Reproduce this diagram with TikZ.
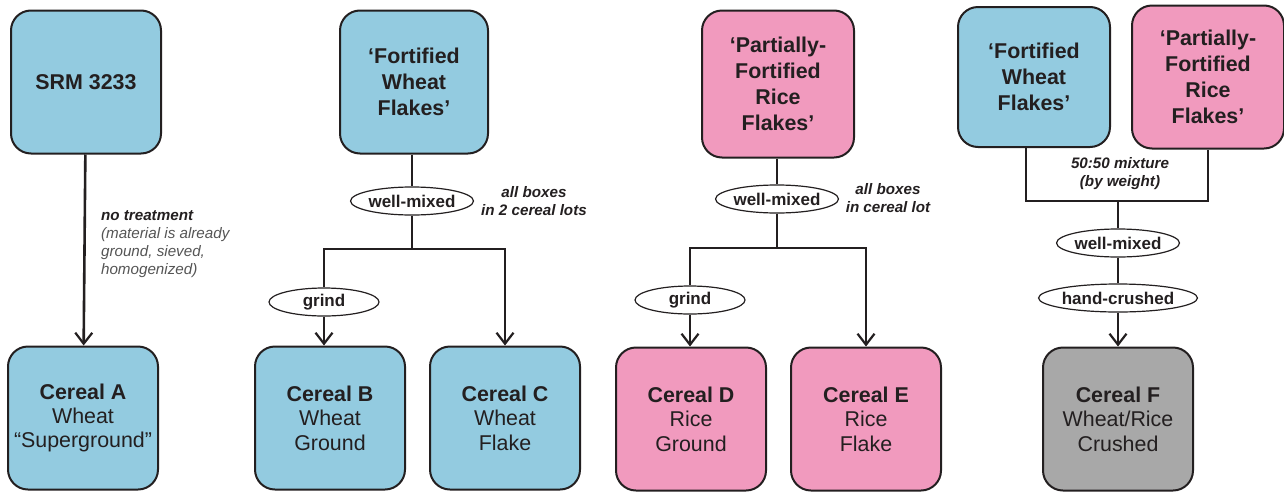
\documentclass[tikz,border=0pt]{standalone}
\usepackage{fontspec}
\setmainfont{Liberation Sans}
\usepackage{xcolor}
\definecolor{wheatblue}{RGB}{147,203,224}
\definecolor{ricepink}{RGB}{241,154,190}
\definecolor{mixgray}{RGB}{168,168,168}
\definecolor{ink}{RGB}{35,31,32}
\definecolor{notegray}{RGB}{85,85,85}
\usepackage{tikz}
\usetikzlibrary{
  arrows.meta,
  positioning,
  shapes.geometric
}
\tikzset{
  wheatbox/.style={draw=ink, line width=1pt, rounded corners=10pt, fill=wheatblue,
    minimum width=75pt, minimum height=71.5pt, inner sep=2pt,
    align=center, text=ink, font=\fontsize{10.7}{12.2}\selectfont},
  ricebox/.style={wheatbox, fill=ricepink},
  mixbox/.style={wheatbox, fill=mixgray},
  srcbox/.style={wheatbox, font=\bfseries\fontsize{10.7}{12.9}\selectfont},
  procnode/.style={draw=ink, ellipse, line width=0.6pt, fill=white,
    minimum width=55pt, minimum height=14pt, inner sep=0pt,
    text=ink, font=\bfseries\fontsize{8.5}{10}\selectfont},
  notenode/.style={align=center, text=ink,
    font=\bfseries\itshape\fontsize{7.6}{9}\selectfont},
  conn/.style={draw=ink, line width=1.3pt},
  arr/.style={conn, -{Straight Barb[length=5.5pt, width=8.5pt, line width=1.1pt]}},
}
\newcommand{\cereal}[3]{\textbf{#1}\\#2\\#3}

\begin{document}
\begin{tikzpicture}[x=0.5pt, y=-0.5pt]
  \useasboundingbox (0,0) rectangle (1284,493);

  % Cereal A
  \node[srcbox] (srm) at (86,82) {SRM 3233};
  \node[wheatbox] (cerealA) at (83,418)
    {\cereal{Cereal A}{Wheat}{``Superground''}};
  \node[anchor=west, align=left, text=notegray,
        font=\itshape\fontsize{7.6}{9}\selectfont] (noteA) at (94,244)
    {\textcolor{ink}{\textbf{no treatment}}\\(material is already\\ground, sieved,\\homogenized)};

  % Cereal B and C
  \node[srcbox, minimum width=74pt] (fwf) at (414,82)
    {`Fortified\\Wheat\\Flakes'};
  \node[procnode] (mixB) at (412,201) {well-mixed};
  \coordinate (jB) at (412,249);
  \node[procnode] (grindB) at (324,302) {grind};
  \node[wheatbox] (cerealB) at (330,418)
    {\cereal{Cereal B}{Wheat}{Ground}};
  \node[wheatbox, right=11.5pt of cerealB] (cerealC)
    {\cereal{Cereal C}{Wheat}{Flake}};
  \node[notenode] (noteB) at (534,201) {all boxes\\in 2 cereal lots};

  % Cereal D and E
  \node[srcbox, fill=ricepink, minimum width=76pt, minimum height=73.5pt] (pfrf) at (778,84)
    {`Partially-\\Fortified\\Rice\\Flakes'};
  \node[procnode] (mixD) at (777,199) {well-mixed};
  \coordinate (jD) at (777,248);
  \node[procnode] (grindD) at (690,300) {grind};
  \node[ricebox] (cerealD) at (691,419)
    {\cereal{Cereal D}{Rice}{Ground}};
  \node[ricebox, right=11.5pt of cerealD] (cerealE)
    {\cereal{Cereal E}{Rice}{Flake}};
  \node[notenode] (noteD) at (888,198) {all boxes\\in cereal lot};

  % Cereal F
  \node[srcbox, minimum width=76pt, minimum height=70pt] (fwfF) at (1034,77)
    {`Fortified\\Wheat\\Flakes'};
  \node[srcbox, fill=ricepink, minimum width=76pt, right=10pt of fwfF] (pfrfF)
    {`Partially-\\Fortified\\Rice\\Flakes'};
  \coordinate (jF) at (1118,201);
  \node[notenode] (noteF) at (1120,174) {50:50 mixture\\(by weight)};
  \node[procnode, minimum width=58.5pt] (mixF) at (1118,243) {well-mixed};
  \node[procnode, minimum width=66.5pt] (crushF) at (1118,298) {hand-crushed};
  \node[mixbox] (cerealF) at (1118,419)
    {\cereal{Cereal F}{Wheat/Rice}{Crushed}};

  % Arrows
  \draw[arr] (srm) -- (cerealA);
  \draw[conn] (fwf.south -| mixB) -- (mixB);
  \draw[conn] (mixB) -- (jB);
  \draw[conn] (jB) -| (grindB);
  \draw[arr] (jB) -| (cerealC.north);
  \draw[arr] (grindB) -- (grindB |- cerealB.north);
  \draw[conn] (pfrf.south -| mixD) -- (mixD);
  \draw[conn] (mixD) -- (jD);
  \draw[conn] (jD) -| (grindD);
  \draw[arr] (jD) -| (cerealE.north);
  \draw[arr] (grindD) -- (grindD |- cerealD.north);
  \draw[conn] ([xshift=-4pt]fwfF.south) |- (jF) -| (pfrfF.south);
  \draw[conn] (jF) -- (mixF);
  \draw[conn] (mixF) -- (crushF);
  \draw[arr] (crushF) -- (cerealF);
\end{tikzpicture}
\end{document}
